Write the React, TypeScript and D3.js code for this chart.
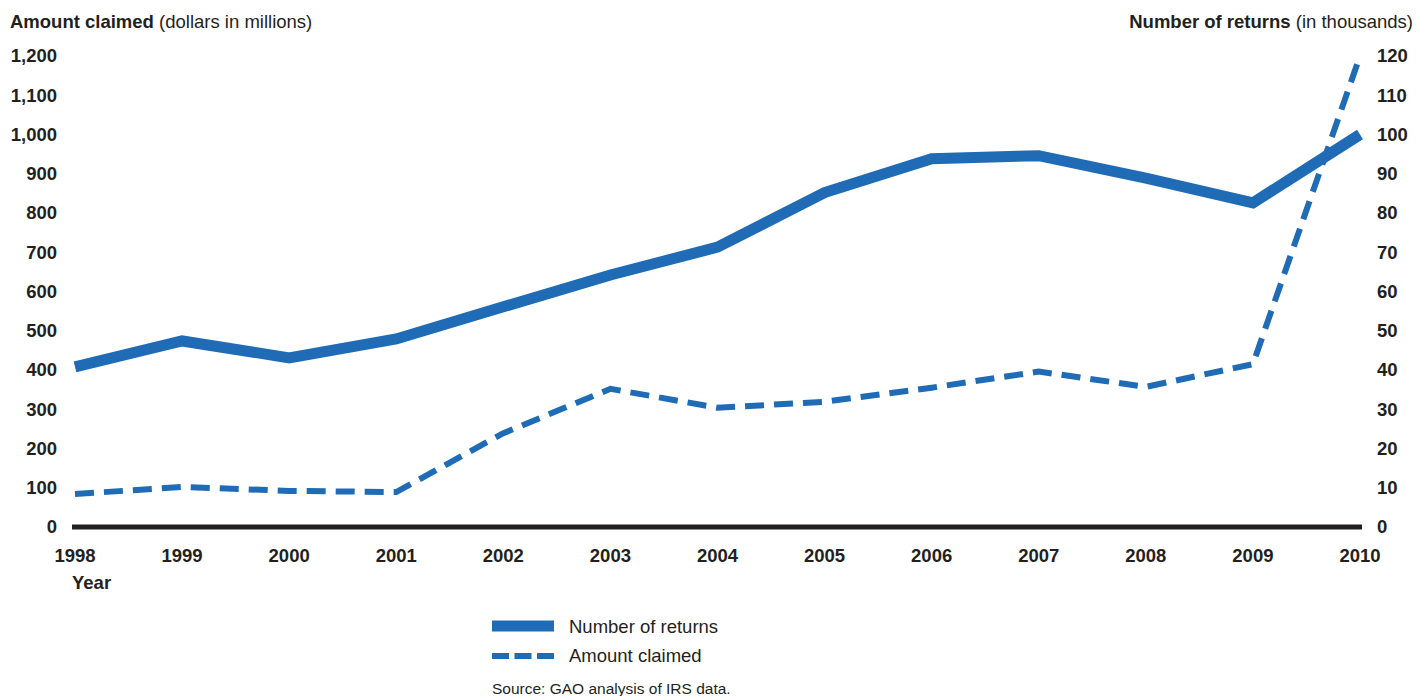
import React from "react";
import * as d3 from "d3";

const years = [1998, 1999, 2000, 2001, 2002, 2003, 2004, 2005, 2006, 2007, 2008, 2009, 2010];
// Number of returns (thousands), right axis
const returnsCount = [40.8, 47.4, 43.1, 47.9, 56.1, 64.2, 71.3, 85.2, 93.8, 94.6, 88.9, 82.6, 100];
// Amount claimed (dollars in millions), left axis
const amountClaimed = [84, 102, 92, 89, 239, 352, 304, 319, 355, 396, 357, 415, 1200];
const leftTicks = [0, 100, 200, 300, 400, 500, 600, 700, 800, 900, 1000, 1100, 1200];
const rightTicks = [0, 10, 20, 30, 40, 50, 60, 70, 80, 90, 100, 110, 120];

const W = 1417;
const H = 696;
const BLUE = "#1f6bb5";
const INK = "#231f20";
const FONT = "'Liberation Sans', Arial, sans-serif";
const FS = 18.5;

function App(): JSX.Element {
    const x = d3.scalePoint<number>().domain(years).range([75, 1360]);
    const yLeft = d3.scaleLinear().domain([0, 1200]).range([527, 56]);
    const yRight = d3.scaleLinear().domain([0, 120]).range([527, 56]);

    const returnsLine = d3.line<number>()
        .x((_, i) => x(years[i]) as number)
        .y(d => yRight(d));
    const amountLine = d3.line<number>()
        .x((_, i) => x(years[i]) as number)
        .y(d => yLeft(d));

    return (
        <svg width={W} height={H} style={{position: "absolute", left: 0, top: 0}} fontFamily={FONT}>
            <rect width={W} height={H} fill="#fff"/>

            {/* axis titles */}
            <text x={10} y={28} fontSize={FS} fill={INK}>
                <tspan fontWeight="bold">Amount claimed</tspan> (dollars in millions)
            </text>
            <text x={1413} y={28} fontSize={FS} fill={INK} textAnchor="end">
                <tspan fontWeight="bold">Number of returns</tspan> (in thousands)
            </text>

            {/* left ticks */}
            {leftTicks.map(t => (
                <text key={"l" + t} x={57} y={yLeft(t)} dy="0.35em" textAnchor="end"
                      fontSize={FS} fontWeight="bold" fill={INK}>
                    {d3.format(",")(t)}
                </text>
            ))}
            {/* right ticks */}
            {rightTicks.map(t => (
                <text key={"r" + t} x={1377} y={yRight(t)} dy="0.35em" textAnchor="start"
                      fontSize={FS} fontWeight="bold" fill={INK}>
                    {t}
                </text>
            ))}

            {/* year labels */}
            {years.map(yr => (
                <text key={yr} x={x(yr)} y={562} textAnchor="middle"
                      fontSize={FS} fontWeight="bold" fill={INK}>
                    {yr}
                </text>
            ))}
            <text x={72} y={589} fontSize={FS} fontWeight="bold" fill={INK}>Year</text>

            {/* baseline */}
            <line x1={72} x2={1362} y1={yLeft(0)} y2={yLeft(0)} stroke={INK} strokeWidth={5}/>

            {/* series */}
            <path d={amountLine(amountClaimed) || ""} fill="none" stroke={BLUE}
                  strokeWidth={6} strokeDasharray="19 10"/>
            <path d={returnsLine(returnsCount) || ""} fill="none" stroke={BLUE}
                  strokeWidth={11}/>

            {/* legend */}
            <line x1={492} x2={554} y1={626} y2={626} stroke={BLUE} strokeWidth={11}/>
            <text x={569} y={627} dy="0.35em" fontSize={FS} fill={INK}>Number of returns</text>
            <line x1={492} x2={554} y1={656} y2={656} stroke={BLUE} strokeWidth={6}
                  strokeDasharray="17 5.5"/>
            <text x={569} y={656} dy="0.35em" fontSize={FS} fill={INK}>Amount claimed</text>

            <text x={492} y={694} fontSize={15.5} fill={INK}>Source: GAO analysis of IRS data.</text>
        </svg>
    );
}

export default App;
